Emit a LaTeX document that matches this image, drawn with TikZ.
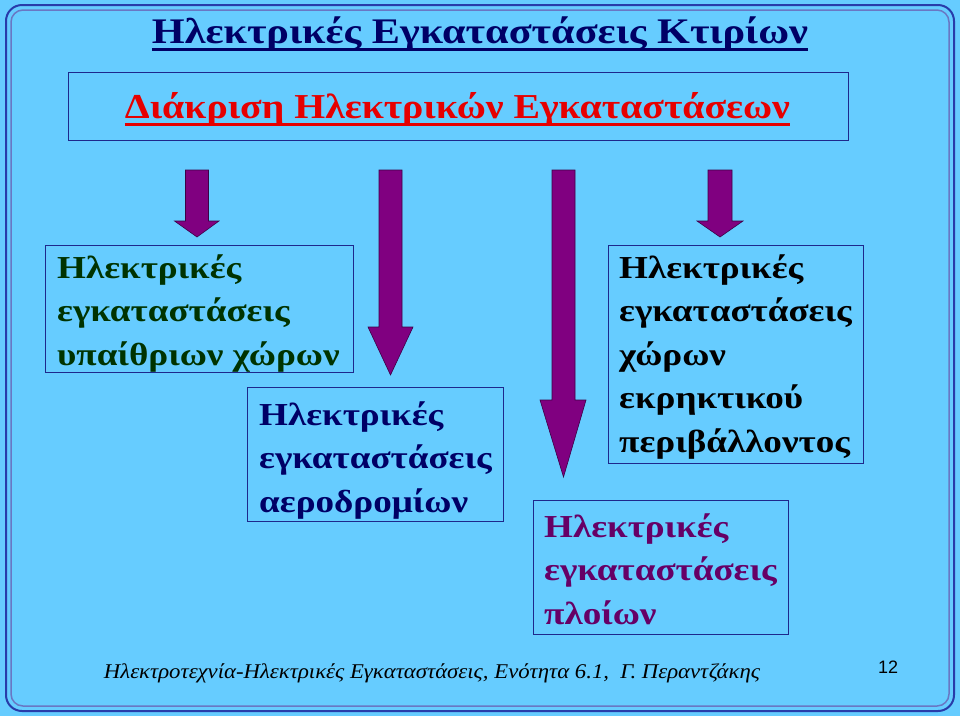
\documentclass[tikz,border=0pt]{standalone}
\usepackage{fontspec}
\setmainfont{Liberation Serif}
\newfontfamily\numfont{Liberation Sans}
\newfontfamily\boxfont[FakeStretch=1.16]{Liberation Serif}
\usepackage{graphicx}
\definecolor{bgblue}{RGB}{102,204,255}
\definecolor{frameblue}{RGB}{40,60,170}
\definecolor{navy}{RGB}{0,0,102}
\definecolor{titlered}{RGB}{230,0,0}
\definecolor{arrowpurple}{RGB}{128,0,128}
\definecolor{arrowedge}{RGB}{60,0,70}
\definecolor{boxedge}{RGB}{30,40,140}
\definecolor{darkgreen}{RGB}{0,51,0}
\definecolor{plum}{RGB}{102,0,102}
\newcommand{\topstrut}{\rule{0pt}{25pt}}
\tikzset{
  framebox/.style={draw=boxedge, line width=0.8pt, inner sep=0pt, anchor=north west},
  boxtext/.style={inner sep=0pt, anchor=north west, align=left,
    font=\boxfont\fontsize{32}{43.5}\selectfont\bfseries},
  bigarrow/.style={fill=arrowpurple, draw=arrowedge, line width=0.6pt, line join=miter},
}
\begin{document}
\begin{tikzpicture}[x=1pt,y=-1pt]
\useasboundingbox (0,0) rectangle (960,716);
\fill[bgblue] (0,0) rectangle (960,716);
% outer double frame
\draw[frameblue, line width=2pt, rounded corners=16pt] (6,5) rectangle (954,711);
\draw[frameblue!70!white, line width=1.5pt, rounded corners=12pt] (11,10) rectangle (949,706);

% title
\node[inner sep=0pt, anchor=base, text=navy] (title) at (480,43)
  {\resizebox{656pt}{\height}{\fontsize{36}{40}\selectfont\bfseries Ηλεκτρικές Εγκαταστάσεις Κτιρίων}};
\draw[navy, line width=3pt] ([yshift=-6pt]title.base west) -- ([yshift=-6pt]title.base east);

% subtitle box
\node[framebox, minimum width=780pt, minimum height=68pt] (subbox) at (68,72) {};
\node[inner sep=0pt, anchor=base, text=titlered] (subtitle) at (457.5,118)
  {\resizebox{665pt}{\height}{\fontsize{35}{40}\selectfont\bfseries Διάκριση Ηλεκτρικών Εγκαταστάσεων}};
\draw[titlered, line width=3pt] ([yshift=-6pt]subtitle.base west) -- ([yshift=-6pt]subtitle.base east);

% arrows
\coordinate (a1) at (197,170);
\coordinate (a2) at (390.5,170);
\coordinate (a3) at (563.5,170);
\coordinate (a4) at (720,170);
\draw[bigarrow] (a1) ++(-11.5,0) -- ++(0,51) -- ++(-11,0) -- (197,237) -- (219,221) -- ++(-10.5,0) -- ++(0,-51) -- cycle;
\draw[bigarrow] (a2) ++(-11.5,0) -- ++(0,157) -- ++(-11,0) -- (390.5,375) -- (413,327) -- ++(-11,0) -- ++(0,-157) -- cycle;
\draw[bigarrow] (a3) ++(-11.5,0) -- ++(0,230) -- ++(-12,0) -- (563.5,477) -- (586,400) -- ++(-11,0) -- ++(0,-230) -- cycle;
\draw[bigarrow] (a4) ++(-12,0) -- ++(0,51) -- ++(-11,0) -- (720,237) -- (743,221) -- ++(-11,0) -- ++(0,-51) -- cycle;

% box A
\node[framebox, minimum width=308pt, minimum height=127pt] (boxA) at (45,245) {};
\node[boxtext, text=darkgreen] (textA) at (57,253) {\topstrut Ηλεκτρικές\\εγκαταστάσεις\\υπαίθριων χώρων};

% box B
\node[framebox, minimum width=256pt, minimum height=134pt] (boxB) at (247,387) {};
\node[boxtext, text=navy] (textB) at (259,400) {\topstrut Ηλεκτρικές\\εγκαταστάσεις\\αεροδρομίων};

% box C
\node[framebox, minimum width=255pt, minimum height=218pt] (boxC) at (608,245) {};
\node[boxtext, text=black] (textC) at (619,253) {\topstrut Ηλεκτρικές\\εγκαταστάσεις\\χώρων\\εκρηκτικού\\περιβάλλοντος};

% box D
\node[framebox, minimum width=255pt, minimum height=134pt] (boxD) at (533,500) {};
\node[boxtext, text=plum] (textD) at (544,512) {\topstrut Ηλεκτρικές\\εγκαταστάσεις\\πλοίων};

% footer
\node[inner sep=0pt, anchor=base, text=black] (footer) at (432,678)
  {\resizebox{656pt}{\height}{\fontsize{21}{24}\selectfont\itshape Ηλεκτροτεχνία-Ηλεκτρικές Εγκαταστάσεις, Ενότητα 6.1,\ \ Γ. Περαντζάκης}};
\node[inner sep=0pt, anchor=base, text=black] (pagenum) at (888,673) {\fontsize{18}{20}\selectfont\numfont 12};
\end{tikzpicture}
\end{document}
